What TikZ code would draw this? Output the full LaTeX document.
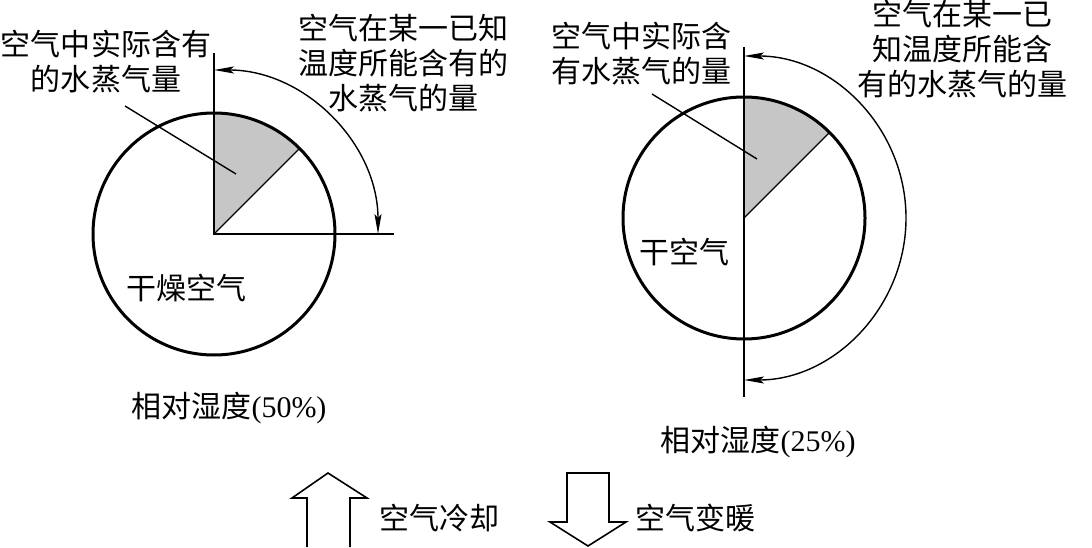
\documentclass[tikz,border=0pt]{standalone}
\usepackage{fontspec}
\setmainfont{Liberation Serif}
\newfontfamily\cjk{Noto Sans CJK SC}
\usetikzlibrary{positioning,arrows.meta,calc}

\begin{document}
\begin{tikzpicture}[
    x=0.5pt, y=0.5pt,
    lbl/.style={font=\cjk\fontsize{15}{17.5}\selectfont, align=center, inner sep=0pt},
    ring/.style={draw, line width=1.5pt},
    rule/.style={draw, line width=0.7pt},
    share/.style={fill=gray!45},
    bigarrow/.style={draw, line width=0.8pt, line join=miter},
    >={Stealth[length=10pt,width=3.5pt,inset=2pt]}
  ]
  \useasboundingbox (0,0) rectangle (1092,547);

  % left circle, 50%
  \coordinate (c1) at (214,313);
  \coordinate (v1) at (214,494);
  \coordinate (h1) at (394,313);
  \fill[share] (c1) -- ++(90:121) arc[start angle=90,end angle=45,radius=121] -- cycle;
  \draw[rule] (c1) -- ++(45:121);
  \draw[ring] (c1) circle[radius=121];
  \draw[rule] (v1) -- (c1) -- (h1);
  \draw[rule, <->] ($(c1)+(90:164)$) arc[start angle=90,end angle=0,radius=164];

  \node[lbl] (actual1) at (106,485) {空气中实际含有\\的水蒸气量};
  \node[lbl] (max1) at (403,484) {空气在某一已知\\温度所能含有的\\水蒸气的量};
  \coordinate (p1) at (125,441);
  \coordinate (q1) at (236,373);
  \draw[rule] (p1) -- (q1);
  \node[lbl] (dry1) at (186,259) {干燥空气};
  \node[lbl] (rh1) at (229,139) {相对湿度{\rmfamily(50\%)}};

  % right circle, 25%
  \coordinate (c2) at (744,329);
  \coordinate (v2t) at (744,500);
  \coordinate (v2b) at (744,150);
  \fill[share] (c2) -- ++(90:121) arc[start angle=90,end angle=45,radius=121] -- cycle;
  \draw[rule] (c2) -- ++(45:121);
  \draw[ring] (c2) circle[radius=121];
  \draw[rule] (v2t) -- (v2b);
  \draw[rule, <->] ($(c2)+(90:162)$) arc[start angle=90,end angle=-90,radius=162];

  \node[lbl] (actual2) at (641,493) {空气中实际含\\有水蒸气的量};
  \node[lbl] (max2) at (962,498) {空气在某一已\\知温度所能含\\有的水蒸气的量};
  \coordinate (p2) at (652,453);
  \coordinate (q2) at (757,388);
  \draw[rule] (p2) -- (q2);
  \node[lbl] (dry2) at (684,295) {干空气};
  \node[lbl] (rh2) at (758,105) {相对湿度{\rmfamily(25\%)}};

  % cooling / warming
  \draw[bigarrow] (307,0) -- (307,49) -- (292,49) -- (328,74) -- (367,49) -- (350,49) -- (350,0);
  \node[lbl] (cool) at (439,29) {空气冷却};
  \draw[bigarrow] (567,74) -- (609,74) -- (609,25) -- (626,25) -- (588,1) -- (550,25) -- (567,25) -- cycle;
  \node[lbl] (warm) at (695,29) {空气变暖};
\end{tikzpicture}
\end{document}
